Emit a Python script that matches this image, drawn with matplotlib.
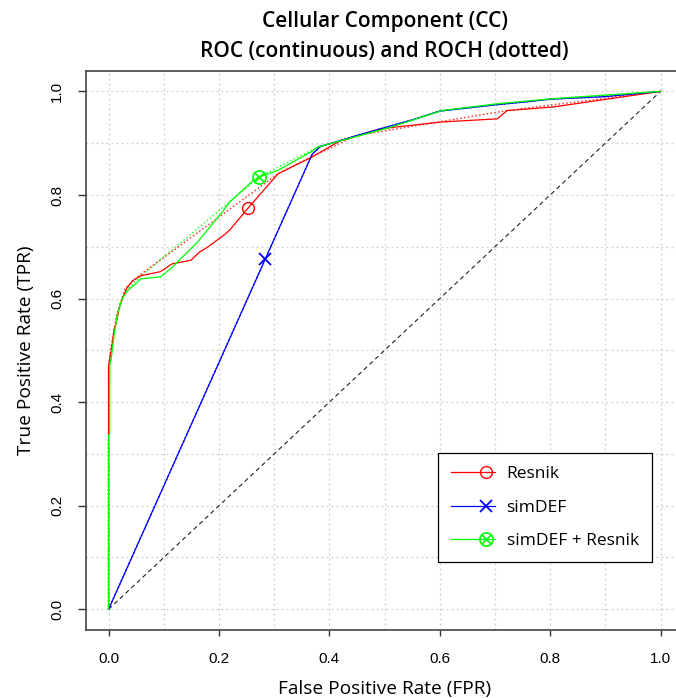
import numpy as np
import matplotlib
matplotlib.use('Agg')
import matplotlib.pyplot as plt
from matplotlib.path import Path
from matplotlib.legend_handler import HandlerLine2D

# ROC / ROCH points (FPR, TPR)
resnik_fpr = [0, 0, 0.003, 0.005, 0.010, 0.013, 0.019, 0.025, 0.033, 0.043, 0.058, 0.094,
              0.115, 0.149, 0.165, 0.179, 0.212, 0.220, 0.253, 0.307, 0.368, 0.420, 0.493,
              0.604, 0.704, 0.722, 0.806, 0.909, 1.0]
resnik_tpr = [0, 0.47, 0.49, 0.50, 0.54, 0.55, 0.58, 0.60, 0.62, 0.634, 0.644, 0.652,
              0.667, 0.674, 0.690, 0.699, 0.725, 0.733, 0.775, 0.841, 0.873, 0.905, 0.928,
              0.941, 0.947, 0.963, 0.970, 0.986, 1.0]
resnik_hull_fpr = [0, 0, 0.005, 0.015, 0.030, 0.056, 0.307, 0.368, 0.450, 0.722, 1.0]
resnik_hull_tpr = [0, 0.47, 0.51, 0.57, 0.62, 0.645, 0.841, 0.874, 0.915, 0.963, 1.0]

simdef_fpr = [0, 0.369, 0.384, 0.420, 0.450, 0.500, 0.550, 0.600, 0.650, 0.700, 0.758,
              0.800, 0.900, 1.0]
simdef_tpr = [0, 0.879, 0.894, 0.905, 0.915, 0.930, 0.945, 0.962, 0.968, 0.974, 0.980,
              0.985, 0.990, 1.0]

both_fpr = [0, 0, 0.002, 0.002, 0.005, 0.010, 0.016, 0.025, 0.034, 0.045, 0.052, 0.058,
            0.094, 0.115, 0.127, 0.161, 0.206, 0.219, 0.262, 0.273, 0.306, 0.368, 0.378,
            0.411, 0.511, 0.604, 0.704, 0.806, 1.0]
both_tpr = [0, 0.335, 0.34, 0.47, 0.486, 0.53, 0.57, 0.60, 0.615, 0.625, 0.631, 0.638,
            0.642, 0.660, 0.673, 0.709, 0.767, 0.786, 0.828, 0.835, 0.847, 0.884, 0.892,
            0.902, 0.931, 0.963, 0.976, 0.986, 1.0]
both_hull_fpr = [0, 0, 0.002, 0.010, 0.020, 0.035, 0.055, 0.273, 0.378, 0.511, 0.604,
                 0.704, 0.806, 1.0]
both_hull_tpr = [0, 0.335, 0.47, 0.53, 0.59, 0.62, 0.64, 0.835, 0.892, 0.931, 0.963,
                 0.976, 0.986, 1.0]

# cutoff markers
resnik_pt = (0.253, 0.775)
simdef_pt = (0.284, 0.677)
both_pt = (0.273, 0.835)

labels = ['Resnik', 'simDEF', 'simDEF + Resnik']
colors = ['#ff0000', '#0000ff', '#00ff00']

W, H = 676, 698


def circle_x_marker():
    """R pch=13: circle with a cross inside."""
    c = Path.unit_circle()
    d = np.sqrt(0.5)
    cross = Path([(-d, -d), (d, d), (-d, d), (d, -d)],
                 [Path.MOVETO, Path.LINETO, Path.MOVETO, Path.LINETO])
    return Path.make_compound_path(c, cross)


class RHandler(HandlerLine2D):
    # marker sits near the right end of the legend line, like R
    def create_artists(self, *args, **kwargs):
        arts = super().create_artists(*args, **kwargs)
        line = arts[0]
        xd = np.asarray(line.get_xdata(), dtype=float)
        if len(xd) == 3:
            xd[1] = xd[0] + 0.78 * (xd[2] - xd[0])
            line.set_xdata(xd)
        return arts


fig = plt.figure(figsize=(W / 100, H / 100), dpi=100)
left, right, top, bottom = 86.5, 682.6, 70.7, 630.0
ax = fig.add_axes([left / W, 1 - bottom / H, (right - left) / W, (bottom - top) / H])

ax.set_xlim(-0.04, 1.04)
ax.set_ylim(-0.04, 1.04)

grid_ticks = np.arange(0, 1.01, 0.1)
for g in grid_ticks:
    ax.axvline(g, color='#cfcfcf', lw=0.9, ls=(0, (1.5, 2.5)), zorder=0)
    ax.axhline(g, color='#cfcfcf', lw=0.9, ls=(0, (1.5, 2.5)), zorder=0)

ax.plot([0, 1], [0, 1], color='#222222', lw=0.8, ls=(0, (4, 3)), zorder=1)

mk_cx = circle_x_marker()

# hulls (dotted)
ax.plot(resnik_hull_fpr, resnik_hull_tpr, color=colors[0], lw=1.1, ls=(0, (1, 1.5)), alpha=0.8)
ax.plot(simdef_fpr, simdef_tpr, color=colors[1], lw=1.1, ls=(0, (1, 1.5)), alpha=0.8)
ax.plot(both_hull_fpr, both_hull_tpr, color=colors[2], lw=1.1, ls=(0, (1, 1.5)), alpha=0.8)

# ROC curves
l1, = ax.plot(resnik_fpr, resnik_tpr, color=colors[0], lw=0.9)
l2, = ax.plot(simdef_fpr, simdef_tpr, color=colors[1], lw=0.9)
l3, = ax.plot(both_fpr, both_tpr, color=colors[2], lw=0.9)

ax.plot(*resnik_pt, marker='o', ms=8.5, mfc='none', mec=colors[0], mew=1.0)
ax.plot(*simdef_pt, marker='x', ms=8.5, mec=colors[1], mew=1.3)
ax.plot(*both_pt, marker=mk_cx, ms=9.5, mfc='none', mec=colors[2], mew=1.2)

h1 = plt.Line2D([], [], color=colors[0], lw=0.9, marker='o', ms=8.5, mfc='none', mew=1.0)
h2 = plt.Line2D([], [], color=colors[1], lw=0.9, marker='x', ms=8.5, mew=1.3)
h3 = plt.Line2D([], [], color=colors[2], lw=0.9, marker=mk_cx, ms=9.5, mfc='none', mew=1.2)
leg = ax.legend([h1, h2, h3], labels, loc='upper left',
                bbox_to_anchor=((438 - left) / (right - left), (bottom - 453) / (bottom - top)),
                handler_map={plt.Line2D: RHandler()},
                prop={'family': 'Open Sans', 'size': 12.5}, frameon=True, fancybox=False,
                edgecolor='black', framealpha=1, borderaxespad=0, borderpad=0.75,
                handlelength=2.55, handletextpad=0.65, labelspacing=1.0, numpoints=1)
leg.get_frame().set_linewidth(0.9)

ax.set_xticks([0, 0.2, 0.4, 0.6, 0.8, 1.0])
ax.set_yticks([0, 0.2, 0.4, 0.6, 0.8, 1.0])
ax.set_xticklabels(['0.0', '0.2', '0.4', '0.6', '0.8', '1.0'], family='Liberation Sans', fontsize=11)
ax.set_yticklabels(['0.0', '0.2', '0.4', '0.6', '0.8', '1.0'], family='Liberation Sans', fontsize=11,
                   rotation=90, va='center')
ax.tick_params(axis='x', length=4, width=1, color='#333333', pad=12)
ax.tick_params(axis='y', length=6, width=1, color='#333333', pad=10)
for s in ax.spines.values():
    s.set_color('#444444')
    s.set_linewidth(1.2)

ax.set_xlabel('False Positive Rate (FPR)', family='Open Sans', fontsize=13.8, labelpad=10)
ax.set_ylabel('True Positive Rate (TPR)', family='Open Sans', fontsize=13.8, labelpad=11)

cx = (left + right) / 2 / W
fig.text(cx, 1 - 22 / H, 'Cellular Component (CC)', ha='center', va='center',
         family='Open Sans', fontsize=15, weight='semibold')
fig.text(cx, 1 - 52 / H, 'ROC (continuous) and ROCH (dotted)', ha='center', va='center',
         family='Open Sans', fontsize=15, weight='semibold')

fig.savefig('out.png', dpi=100)
